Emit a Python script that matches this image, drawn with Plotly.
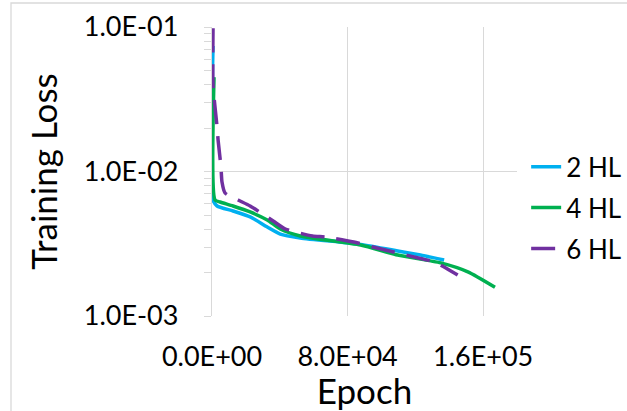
import plotly.graph_objects as go

# Training loss per network depth (HL = hidden layers)
epoch_2hl = [600, 600, 3000, 12400, 22500, 32600, 40300, 52100, 87700, 109600, 123000, 137000]
loss_2hl = [0.074, 0.00635, 0.00577, 0.00533, 0.00485, 0.00413, 0.00369, 0.00347, 0.00313, 0.00282, 0.00264, 0.00244]

epoch_4hl = [1200, 1800, 4700, 12400, 22500, 32600, 40300, 52100, 87700, 109600, 135000, 151000, 167000]
loss_4hl = [0.045, 0.00635, 0.00615, 0.00577, 0.00525, 0.00462, 0.0040, 0.00358, 0.0031, 0.00264, 0.00233, 0.00202, 0.00158]

epoch_6hl = [600, 600, 3000, 3600, 5300, 5900, 7700, 15400, 22500, 36100, 43300, 59300, 67000, 83600, 95000, 123000, 131000, 138000, 145000]
loss_6hl = [0.098, 0.0397, 0.0203, 0.0165, 0.0107, 0.00845, 0.0071, 0.00635, 0.00577, 0.00454, 0.0040, 0.00358, 0.00352, 0.00325, 0.0030, 0.0025, 0.00237, 0.00215, 0.00192]

series_names = ["2 HL", "4 HL", "6 HL"]
series_colors = ["#00B0F0", "#00B050", "#7030A0"]

x_tickvals = [0, 80000, 160000]
x_ticktext = ["0.0E+00", "8.0E+04", "1.6E+05"]
y_tickvals = [0.001, 0.01, 0.1]
y_ticktext = ["1.0E-03", "1.0E-02", "1.0E-01"]
y_minor = [m * 10.0 ** e for e in (-3, -2) for m in range(2, 10)]

FONT = "Lato"
GRID = "#D9D9D9"

fig = go.Figure()
for i, (xs, ys, dash) in enumerate([
    (epoch_2hl, loss_2hl, "solid"),
    (epoch_4hl, loss_4hl, "solid"),
    (epoch_6hl, loss_6hl, "24px,12px"),
]):
    fig.add_trace(go.Scatter(
        x=xs, y=ys, name=series_names[i], mode="lines",
        legendgroup=series_names[i],
        line=dict(color=series_colors[i], width=3.5, dash=dash,
                  shape="spline", smoothing=0.6),
    ))

fig.update_layout(
    width=627, height=411,
    margin=dict(l=212, r=110, t=27, b=95, autoexpand=False),
    paper_bgcolor="white", plot_bgcolor="white",
    font=dict(family=FONT, color="#000000"),
    legend=dict(x=1.03, xanchor="left", y=0.374, yanchor="middle",
                font=dict(size=26, family=FONT), tracegroupgap=4,
                bgcolor="rgba(0,0,0,0)"),
    shapes=[dict(type="rect", xref="paper", yref="paper",
                 x0=-0.659, x1=2.0, y0=-1.0, y1=1.083,
                 line=dict(color=GRID, width=1.3), layer="below")],
)

fig.update_xaxes(
    range=[0, 180000], tickvals=x_tickvals, ticktext=x_ticktext,
    showgrid=True, gridcolor=GRID, gridwidth=1.3,
    zeroline=False, showline=False, ticks="",
    ticklabelstandoff=22,
    tickfont=dict(size=27, family=FONT, color="#000000"),
    title=dict(text="Epoch", font=dict(size=35, family=FONT, color="#000000"), standoff=4),
)
fig.update_yaxes(
    type="log", range=[-3, -1], tickvals=y_tickvals, ticktext=y_ticktext,
    showgrid=True, gridcolor=GRID, gridwidth=1.3,
    showline=True, linecolor=GRID, linewidth=1.3,
    ticks="outside", ticklen=7, tickcolor=GRID, tickwidth=1.3,
    minor=dict(tickvals=y_minor, ticks="outside", ticklen=7, tickcolor=GRID,
               tickwidth=1.3, showgrid=False),
    ticklabelstandoff=20,
    tickfont=dict(size=27, family=FONT, color="#000000"),
    title=dict(text="Training Loss", font=dict(size=35, family=FONT, color="#000000"), standoff=15),
)

fig.write_html("out.html")
